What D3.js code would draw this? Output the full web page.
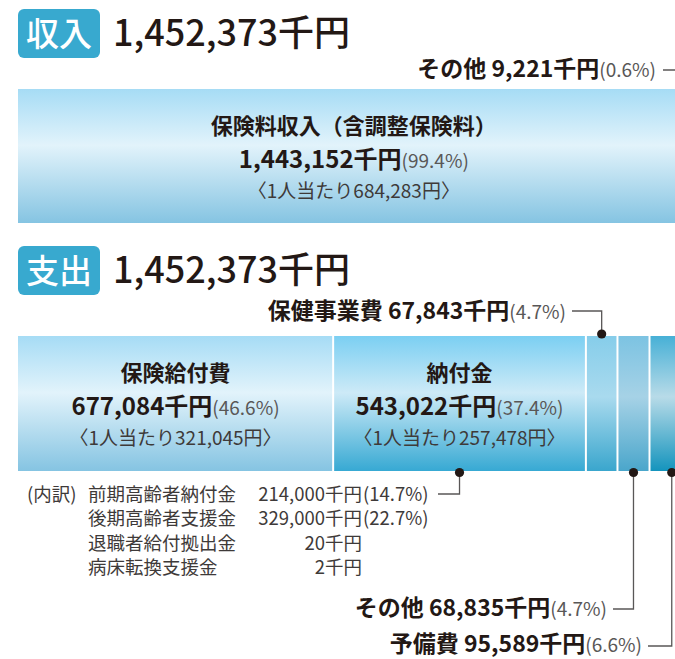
<!DOCTYPE html>
<html>
<head>
<meta charset="utf-8">
<script src="https://cdn.jsdelivr.net/npm/d3@7"></script>
<style>
  body { margin: 0; background: #fff; }
  svg { display: block; font-family: "Noto Sans CJK JP", "Noto Sans", sans-serif; }
</style>
</head>
<body>
<svg id="chart" width="675" height="659"></svg>
<script>
// ---- data ----
const incomeTotal = 1452373;
const incomeCats = ['保険料収入（含調整保険料）', 'その他'];
const incomeValues = [1443152, 9221];
const incomePct = [99.4, 0.6];
const incomePerHead = [684283, null];

const expenseTotal = 1452373;
const expenseCats = ['保険給付費', '納付金', '保健事業費', 'その他', '予備費'];
const expenseValues = [677084, 543022, 67843, 68835, 95589];
const expensePct = [46.6, 37.4, 4.7, 4.7, 6.6];
const expensePerHead = [321045, 257478, null, null, null];

const detailCats = ['前期高齢者納付金', '後期高齢者支援金', '退職者給付拠出金', '病床転換支援金'];
const detailValues = [214000, 329000, 20, 2];
const detailPct = [14.7, 22.7, null, null];

// ---- setup ----
const svg = d3.select('#chart');
const fmt = d3.format(',');
const ink = '#231815';
const grey = '#595757';
const badgeColor = '#38a9cf';

const x = d3.scaleLinear().domain([0, expenseTotal]).range([18, 694]);

const defs = svg.append('defs');
const gradients = {
  light:  [['0%', '#a6dcf5'], ['42%', '#e2f3fb'], ['100%', '#85c4e2']],
  nofu:   [['0%', '#7bcff2'], ['42%', '#cdeaf7'], ['100%', '#37a9d3']],
  hoken:  [['0%', '#86cdea'], ['45%', '#a9daee'], ['100%', '#3aa6cd']],
  other:  [['0%', '#7cc3e2'], ['45%', '#a6d2e6'], ['100%', '#4aa6cb']],
  yobi:   [['0%', '#47b0d6'], ['45%', '#b8dbe8'], ['100%', '#1494bd']]
};
Object.entries(gradients).forEach(([id, stops]) => {
  const g = defs.append('linearGradient').attr('id', 'g-' + id)
    .attr('x1', 0).attr('y1', 0).attr('x2', 0).attr('y2', 1);
  stops.forEach(s => g.append('stop').attr('offset', s[0]).attr('stop-color', s[1]));
});

const stack = vals => {
  const ends = Array.from(d3.cumsum(vals));
  return vals.map((v, i) => ({ x0: ends[i] - v, x1: ends[i], v, i }));
};

const header = (y, badge, total) => {
  const g = svg.append('g').attr('transform', `translate(18, ${y})`);
  g.append('rect').attr('width', 82).attr('height', 49).attr('rx', 6)
    .attr('fill', badgeColor);
  g.append('text').attr('x', 41).attr('y', 37).attr('text-anchor', 'middle')
    .attr('fill', '#fff').attr('font-size', 33).attr('font-weight', 500)
    .text(badge);
  g.append('text').attr('x', 95).attr('y', 37)
    .attr('fill', ink).attr('font-size', 36).attr('font-weight', 500)
    .text(fmt(total) + '千円');
};

const valueText = (sel, value, pct, bigSize, smallSize) => {
  sel.append('tspan').attr('font-weight', 700).attr('font-size', bigSize)
    .attr('fill', ink).text(fmt(value) + '千円');
  sel.append('tspan').attr('font-size', smallSize).attr('fill', grey)
    .text(`(${pct}%)`);
};

const segLabel = (g, cx, yTop, name, value, pct, perHead) => {
  g.append('text').attr('x', cx).attr('y', yTop + 45).attr('text-anchor', 'middle')
    .attr('font-size', 22).attr('font-weight', 700).attr('fill', ink)
    .text(name);
  g.append('text').attr('x', cx).attr('y', yTop + 79).attr('text-anchor', 'middle')
    .call(valueText, value, pct, 24, 19);
  g.append('text').attr('x', cx).attr('y', yTop + 109).attr('text-anchor', 'middle')
    .attr('font-size', 19).attr('fill', '#3e3a39')
    .text(`〈1人当たり${fmt(perHead)}円〉`);
};

const callout = (pts, labelX, labelY, name, value, pct) => {
  const g = svg.append('g');
  g.append('path').attr('d', d3.line()(pts))
    .attr('fill', 'none').attr('stroke', grey).attr('stroke-width', 1.3);
  g.append('circle').attr('cx', pts[0][0]).attr('cy', pts[0][1]).attr('r', 4.6)
    .attr('fill', ink);
  const t = g.append('text').attr('x', labelX).attr('y', labelY).attr('text-anchor', 'end');
  t.append('tspan').attr('font-weight', 700).attr('font-size', 23).attr('fill', ink)
    .text(name + ' ');
  valueText(t, value, pct, 23, 19);
};

const bar = (segs, yTop, h, fills) => {
  const g = svg.append('g');
  g.selectAll('rect').data(segs).join('rect')
    .attr('x', d => x(d.x0)).attr('width', d => x(d.x1) - x(d.x0))
    .attr('y', yTop).attr('height', h)
    .attr('fill', d => `url(#g-${fills[d.i]})`);
  g.selectAll('line').data(segs.slice(1)).join('line')
    .attr('x1', d => x(d.x0)).attr('x2', d => x(d.x0))
    .attr('y1', yTop).attr('y2', yTop + h)
    .attr('stroke', '#fff').attr('stroke-width', 2);
  return g;
};

// ---- income ----
header(9, '収入', incomeTotal);
const inTop = 89, inH = 134;
const inSegs = stack(incomeValues);
const inG = bar(inSegs, inTop, inH, ['light', 'light']);
const inMid = s => (x(s.x0) + x(s.x1)) / 2;
segLabel(inG, inMid(inSegs[0]), inTop, incomeCats[0], incomeValues[0], incomePct[0], incomePerHead[0]);
callout([[inMid(inSegs[1]), inTop - 2], [inMid(inSegs[1]), 70], [663, 70]],
  656, 77, incomeCats[1], incomeValues[1], incomePct[1]);

// ---- expenditure ----
header(246, '支出', expenseTotal);
const exTop = 336, exH = 135, exBot = exTop + exH;
const exSegs = stack(expenseValues);
const exG = bar(exSegs, exTop, exH, ['light', 'nofu', 'hoken', 'other', 'yobi']);
const exMid = s => (x(s.x0) + x(s.x1)) / 2;
[0, 1].forEach(i => segLabel(exG, exMid(exSegs[i]), exTop, expenseCats[i],
  expenseValues[i], expensePct[i], expensePerHead[i]));

callout([[exMid(exSegs[2]), exTop - 2], [exMid(exSegs[2]), 311], [572, 311]],
  566, 319, expenseCats[2], expenseValues[2], expensePct[2]);
callout([[exMid(exSegs[3]), exBot + 1.5], [exMid(exSegs[3]), 609], [613, 609]],
  607, 616, expenseCats[3], expenseValues[3], expensePct[3]);
callout([[exMid(exSegs[4]), exBot + 1.5], [exMid(exSegs[4]), 646], [648, 646]],
  642, 652, expenseCats[4], expenseValues[4], expensePct[4]);

// 納付金 breakdown
svg.append('path')
  .attr('d', d3.line()([[exMid(exSegs[1]), exBot + 1.5], [exMid(exSegs[1]), 494], [438, 494]]))
  .attr('fill', 'none').attr('stroke', grey).attr('stroke-width', 1.3);
svg.append('circle').attr('cx', exMid(exSegs[1])).attr('cy', exBot + 1.5).attr('r', 4.6)
  .attr('fill', ink);

const det = svg.append('g').attr('font-size', 18.5).attr('fill', '#3e3a39');
det.append('text').attr('x', 27).attr('y', 501).text('(内訳)');
const rowY = d3.scaleBand().domain(detailCats).range([501, 501 + 24.3 * 4]);
detailCats.forEach((c, i) => {
  const y = rowY(c);
  det.append('text').attr('x', 88).attr('y', y).text(c);
  det.append('text').attr('x', 362).attr('y', y).attr('text-anchor', 'end')
    .text(fmt(detailValues[i]) + '千円');
  if (detailPct[i] != null)
    det.append('text').attr('x', 363).attr('y', y).text(`(${detailPct[i]}%)`);
});
</script>
</body>
</html>
